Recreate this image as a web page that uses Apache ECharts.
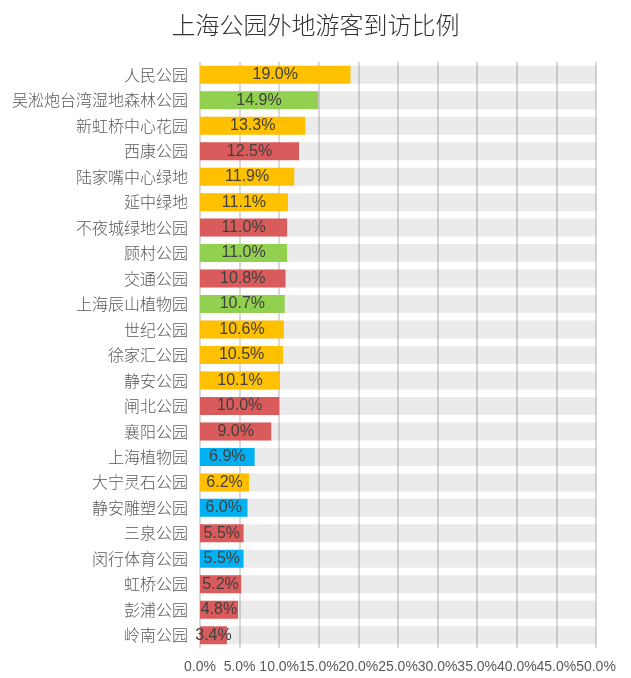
<!DOCTYPE html>
<html><head><meta charset="utf-8">
<script src="https://cdn.jsdelivr.net/npm/echarts@6/dist/echarts.min.js"></script>
<style>html,body{margin:0;padding:0;background:#fff}#c{width:631px;height:678px}</style>
</head><body><div id="c"></div>
<script>
const parks = ['人民公园','吴淞炮台湾湿地森林公园','新虹桥中心花园','西康公园','陆家嘴中心绿地','延中绿地','不夜城绿地公园','顾村公园','交通公园','上海辰山植物园','世纪公园','徐家汇公园','静安公园','闸北公园','襄阳公园','上海植物园','大宁灵石公园','静安雕塑公园','三泉公园','闵行体育公园','虹桥公园','彭浦公园','岭南公园'];
const ratios = [19.0,14.9,13.3,12.5,11.9,11.1,11.0,11.0,10.8,10.7,10.6,10.5,10.1,10.0,9.0,6.9,6.2,6.0,5.5,5.5,5.2,4.8,3.4];
const groups = ['Y','G','Y','R','Y','Y','R','G','R','G','Y','Y','Y','R','R','B','Y','B','R','B','R','R','R'];
const groupColors = {Y:'#FFC000', G:'#92D050', R:'#D95B5B', B:'#00B0F0'};

const chart = echarts.init(document.getElementById('c'));
chart.setOption({
  animation:false,
  title:{text:'上海公园外地游客到访比例',left:'center',top:8,
    textStyle:{fontSize:24,fontWeight:300,color:'#333',fontFamily:'Noto Sans CJK SC'}},
  grid:{left:200,right:35,top:62,bottom:30,containLabel:false},
  xAxis:{type:'value',min:0,max:50,interval:5,
    axisLine:{show:false},axisTick:{show:false},
    axisLabel:{formatter:v=>v.toFixed(1)+'%',color:'#595959',fontSize:14,margin:12,fontFamily:'Liberation Sans'},
    splitLine:{lineStyle:{color:'#d9d9d9',width:2}}},
  yAxis:{type:'category',data:parks,inverse:true,
    axisLine:{show:false},axisTick:{show:false},
    axisLabel:{color:'#595959',fontSize:16,fontWeight:300,margin:12,fontFamily:'Noto Sans CJK SC'}},
  series:[{type:'bar',barWidth:18,
    data:ratios.map((v,i)=>({value:v,itemStyle:{color:groupColors[groups[i]]}})),
    showBackground:true,backgroundStyle:{color:'rgba(0,0,0,0.08)'},
    label:{show:true,position:'inside',formatter:p=>p.value.toFixed(1)+'%',color:'#404040',fontSize:16,fontFamily:'Liberation Sans'}
  }]
});
</script></body></html>
